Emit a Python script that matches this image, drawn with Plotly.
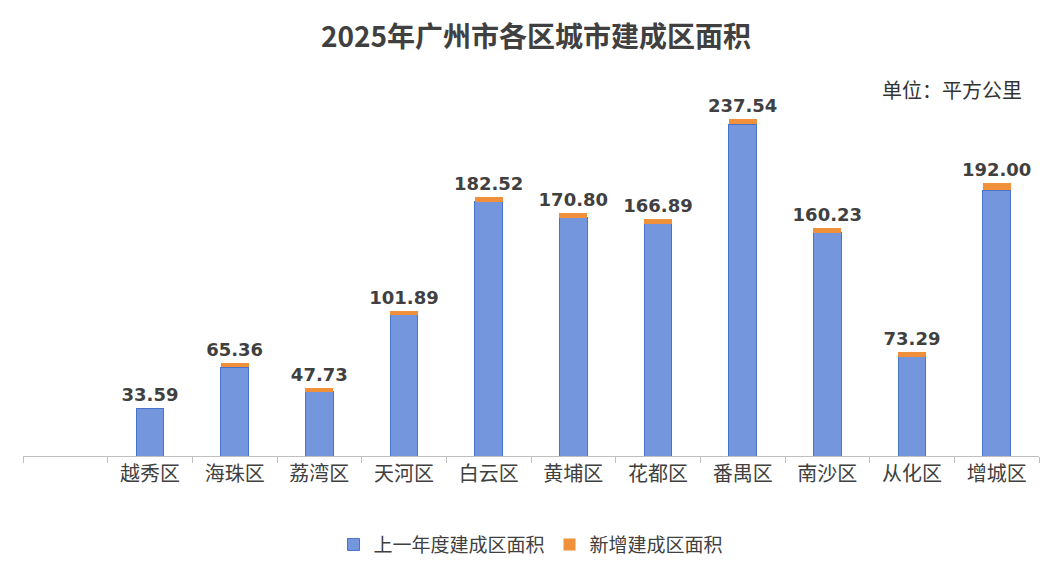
import plotly.graph_objects as go

categories = ["", "越秀区", "海珠区", "荔湾区", "天河区", "白云区", "黄埔区", "花都区", "番禺区", "南沙区", "从化区", "增城区"]
totals = [None, 33.59, 65.36, 47.73, 101.89, 182.52, 170.80, 166.89, 237.54, 160.23, 73.29, 192.00]
new_area = [None, 0.0, 3.0, 2.5, 2.5, 3.5, 3.0, 3.5, 4.0, 3.0, 3.5, 5.0]
prev_area = [None if t is None else round(t - n, 2) for t, n in zip(totals, new_area)]
labels = ["" if t is None else f"<b>{t:.2f}</b>" for t in totals]

font = "Noto Sans CJK SC"
fig = go.Figure()
fig.add_bar(x=categories, y=prev_area, name="上一年度建成区面积",
            marker=dict(color="#7396dd", line=dict(color="#4a72c8", width=1)), width=0.33)
fig.add_bar(x=categories, y=new_area, name="新增建成区面积",
            marker=dict(color="#f0903a", line=dict(color="#f0903a", width=0)), width=0.33,
            text=labels, textposition="outside", cliponaxis=False, constraintext="none",
            textfont=dict(size=18, color="#404040", family="DejaVu Sans"))
fig.update_layout(
    barmode="stack", width=1056, height=568, plot_bgcolor="white", paper_bgcolor="white",
    font=dict(family=font, color="#333"),
    title=dict(text="<b>2025年广州市各区城市建成区面积</b>", x=0.5, y=0.965, xanchor="center",
               font=dict(size=28, color="#404040")),
    margin=dict(l=15, r=25, t=100, b=100),
    bargap=0.6,
    xaxis=dict(showline=True, linecolor="#bfbfbf", ticks="outside", ticklen=6, tickcolor="#bfbfbf",
               tickfont=dict(size=20, color="#404040"), tickson="boundaries"),
    yaxis=dict(visible=False, range=[0, 245]),
    legend=dict(orientation="h", x=0.5, xanchor="center", y=-0.2, yanchor="top",
                traceorder="normal", font=dict(size=19, color="#404040")),
    annotations=[dict(text="单位：平方公里", xref="paper", yref="paper", x=0.985, y=1.1,
                      xanchor="right", showarrow=False, font=dict(size=20, color="#333"))],
)
fig.write_html("out.html")
